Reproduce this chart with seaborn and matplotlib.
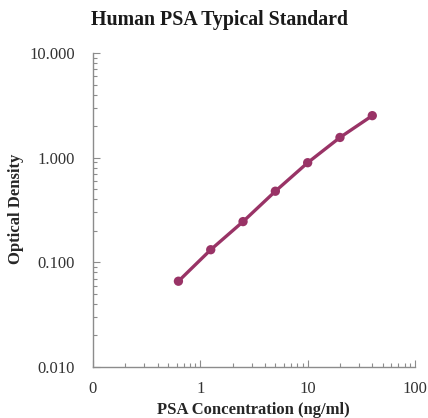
import numpy as np
import pandas as pd
import matplotlib
matplotlib.use("Agg")
import matplotlib.pyplot as plt
import seaborn as sns
from matplotlib.ticker import FixedLocator, FixedFormatter, LogLocator, NullFormatter

concentration = [0.625, 1.25, 2.5, 5, 10, 20, 40]
optical_density = [0.066, 0.132, 0.245, 0.478, 0.895, 1.56, 2.52]
x_tick_values = [0.1, 1, 10, 100]
x_tick_labels = ["0", "1", "10", "100"]
y_tick_values = [0.01, 0.1, 1, 10]
y_tick_labels = ["0.010", "0.100", "1.000", "10.000"]

sns.set_theme(style="white")
plt.rcParams["font.family"] = ["Liberation Serif", "DejaVu Serif"]

color = "#993366"
df = pd.DataFrame({"x": concentration, "y": optical_density})

fig = plt.figure(figsize=(4.28, 4.18), dpi=100)
ax = fig.add_axes([93 / 428, 1 - 367 / 418, (415 - 93) / 428, (367 - 53) / 418])

sns.lineplot(data=df, x="x", y="y", ax=ax, color=color, linewidth=2.4)
sns.scatterplot(data=df, x="x", y="y", ax=ax, color=color, s=45, edgecolor="none", zorder=3)

ax.set_xscale("log")
ax.set_yscale("log")
ax.set_xlim(0.1, 100)
ax.set_ylim(0.01, 10)

ax.xaxis.set_major_locator(FixedLocator(x_tick_values))
ax.xaxis.set_major_formatter(FixedFormatter(x_tick_labels))
ax.yaxis.set_major_locator(FixedLocator(y_tick_values))
ax.yaxis.set_major_formatter(FixedFormatter(y_tick_labels))
ax.xaxis.set_minor_locator(LogLocator(base=10, subs=np.arange(2, 10)))
ax.yaxis.set_minor_locator(LogLocator(base=10, subs=np.arange(2, 10)))
ax.xaxis.set_minor_formatter(NullFormatter())
ax.yaxis.set_minor_formatter(NullFormatter())

spine_c = "#8c8c8c"
for s in ["top", "right"]:
    ax.spines[s].set_visible(False)
for s in ["left", "bottom"]:
    ax.spines[s].set_color(spine_c)
    ax.spines[s].set_linewidth(1.0)

ax.tick_params(axis="y", which="major", pad=13)
ax.tick_params(axis="x", which="major", pad=10)
ax.tick_params(axis="both", which="major", direction="in", length=5, width=0.8,
               color=spine_c, labelsize=12, labelcolor="#333333",
               left=True, bottom=True)
ax.tick_params(axis="both", which="minor", direction="in", length=3, width=0.8,
               color=spine_c, left=True, bottom=True)

ax.set_xlabel("PSA Concentration (ng/ml)", fontsize=12, fontweight="bold")
ax.set_ylabel("Optical Density", fontsize=12, fontweight="bold")
ax.xaxis.set_label_coords((253 - 93) / 322, -(410 - 367) / 314, transform=ax.transAxes)
ax.xaxis.label.set_va("center")
ax.yaxis.set_label_coords((16 - 93) / 322, (367 - 209) / 314, transform=ax.transAxes)
ax.yaxis.label.set_va("center")
fig.text(220 / 428, 1 - 20 / 418, "Human PSA Typical Standard", fontsize=14.3,
         fontweight="bold", ha="center", va="center", color="#1a1a1a")

fig.savefig("out.png", dpi=100, facecolor="white")
